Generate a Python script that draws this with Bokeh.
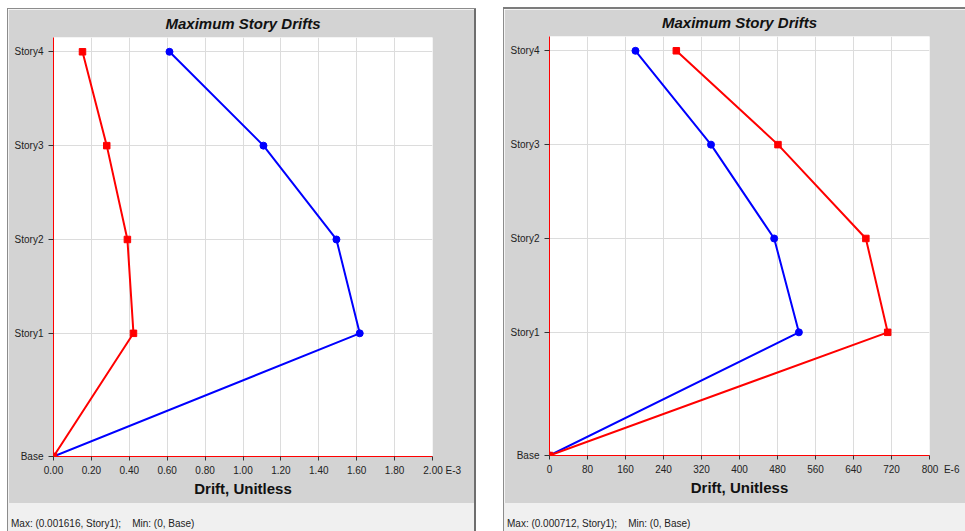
import numpy as np
from bokeh.plotting import figure
from bokeh.layouts import row, column
from bokeh.models import Range1d, FixedTicker, Div, Spacer, NumeralTickFormatter
from bokeh.embed import file_html
from bokeh.resources import INLINE

# Story levels (elevation in mm)
stories = ["Base", "Story1", "Story2", "Story3", "Story4"]
elevations = [0, 4200, 7400, 10600, 13800]

# Case A: maximum story drifts (unitless)
drift_a_x = [0.0, 0.001616, 0.001493, 0.001108, 0.000612]
drift_a_y = [0.0, 0.000422, 0.000390, 0.000281, 0.000153]
ticks_a = [0.0, 0.2, 0.4, 0.6, 0.8, 1.0, 1.2, 1.4, 1.6, 1.8, 2.0]   # x 1E-3

# Case B: maximum story drifts (unitless)
drift_b_x = [0.0, 0.000525, 0.000473, 0.000340, 0.000181]
drift_b_y = [0.0, 0.000712, 0.000666, 0.000481, 0.000267]
ticks_b = [0, 80, 160, 240, 320, 400, 480, 560, 640, 720, 800]      # x 1E-6

PANEL_BG = "#d3d3d3"
STRIP_BG = "#f0f0f0"
FONT = "Liberation Sans"
Y_TOP = 14287
NBSP = "\u00a0"


def line_box(w, h, color):
    return Div(text="", width=w, height=h, margin=0,
               styles={"background-color": color})


def drift_panel(dx, dy, scale, ticks, fmt, last_label,
                width, mb_left, mb_right, mb_top, mb_bottom):
    xmax = ticks[-1]
    p = figure(width=width, height=494, x_range=Range1d(0, xmax),
               y_range=Range1d(0, Y_TOP), output_backend="svg",
               toolbar_location=None, tools="",
               min_border_left=mb_left, min_border_right=mb_right,
               min_border_top=mb_top, min_border_bottom=mb_bottom,
               background_fill_color="white", border_fill_color=PANEL_BG,
               outline_line_color=None)

    p.title.text = "Maximum Story Drifts"
    p.title.align = "center"
    p.title.vertical_align = "top"
    p.title.text_font = FONT
    p.title.text_font_style = "bold italic"
    p.title.text_font_size = "15px"
    p.title.text_color = "#111111"
    p.title.standoff = 7

    xa = p.xaxis[0]
    xa.ticker = FixedTicker(ticks=ticks)
    xa.formatter = NumeralTickFormatter(format=fmt)
    # last tick carries the axis exponent; leading spaces keep the number on its tick
    xa.major_label_overrides = {xmax: last_label}
    xa.axis_line_color = "red"
    xa.axis_line_width = 1
    xa.major_tick_line_color = "#333333"
    xa.major_tick_in = 0
    xa.major_tick_out = 4
    xa.minor_tick_line_color = None
    xa.major_label_text_font = FONT
    xa.major_label_text_font_size = "10px"
    xa.major_label_text_color = "#222222"
    xa.major_label_standoff = 4
    xa.axis_label = "Drift, Unitless"
    xa.axis_label_text_font = FONT
    xa.axis_label_text_font_style = "bold"
    xa.axis_label_text_font_size = "15px"
    xa.axis_label_text_color = "#111111"
    xa.axis_label_standoff = 1

    ya = p.yaxis[0]
    ya.ticker = FixedTicker(ticks=elevations)
    ya.major_label_overrides = {e: s for e, s in zip(elevations, stories)}
    ya.axis_line_color = "red"
    ya.major_tick_line_color = "#333333"
    ya.major_tick_in = 0
    ya.major_tick_out = 5
    ya.minor_tick_line_color = None
    ya.major_label_text_font = FONT
    ya.major_label_text_font_size = "10px"
    ya.major_label_text_color = "#222222"
    ya.major_label_standoff = 5

    p.xgrid[0].grid_line_color = "#dcdcdc"
    p.ygrid[0].grid_line_color = "#dcdcdc"
    p.xgrid[0].ticker = FixedTicker(ticks=ticks)
    p.ygrid[0].ticker = FixedTicker(ticks=elevations)

    xs_x = np.array(dx) * scale
    xs_y = np.array(dy) * scale
    p.line(xs_x, elevations, line_color="blue", line_width=2)
    p.scatter(xs_x, elevations, marker="circle", size=7, color="blue")
    p.line(xs_y, elevations, line_color="red", line_width=2)
    p.scatter(xs_y, elevations, marker="square", size=6.5, color="red")
    return p


def status_strip(dx, dy, width):
    values = list(dx) + list(dy)
    i_max = int(np.argmax(values)) % len(stories)
    i_min = int(np.argmin(values)) % len(stories)
    text = (f"Max: ({max(values):g}, {stories[i_max]});" + NBSP * 4
            + f"Min: ({min(values):g}, {stories[i_min]})")
    html = ("<div style=\"padding:15px 0 0 3px;font-family:'Liberation Sans';"
            "font-size:10px;line-height:12px;color:#222222;white-space:pre;\">"
            + text + "</div>")
    return Div(text=html, width=width, height=28, margin=0,
               styles={"background-color": STRIP_BG, "overflow": "hidden"})


fig_a = drift_panel(drift_a_x, drift_a_y, 1e3, ticks_a, "0.00",
                    NBSP * 7 + "2.00 E-3", 466, 45, 42, 28, 47)
fig_b = drift_panel(drift_b_x, drift_b_y, 1e6, ticks_b, "0",
                    NBSP * 8 + "800" + NBSP * 2 + "E-6", 461, 45, 36, 27, 48)

panel_a = column(
    Spacer(width=469, height=8, margin=0),
    line_box(469, 1, "#8c8c8c"),
    row(line_box(1, 522, "#8c8c8c"),
        column(fig_a, status_strip(drift_a_x, drift_a_y, 466), margin=0),
        line_box(2, 522, "#6e6e6e"), margin=0),
    margin=0)

panel_b = column(
    Spacer(width=462, height=7, margin=0),
    line_box(462, 2, "#7c7c7c"),
    row(line_box(1, 522, "#8c8c8c"),
        column(fig_b, status_strip(drift_b_x, drift_b_y, 461), margin=0),
        margin=0),
    margin=0)

page = row(Spacer(width=7, height=531, margin=0), panel_a,
           Spacer(width=27, height=531, margin=0), panel_b, margin=0)

open("out.html", "w").write(file_html(page, INLINE))
